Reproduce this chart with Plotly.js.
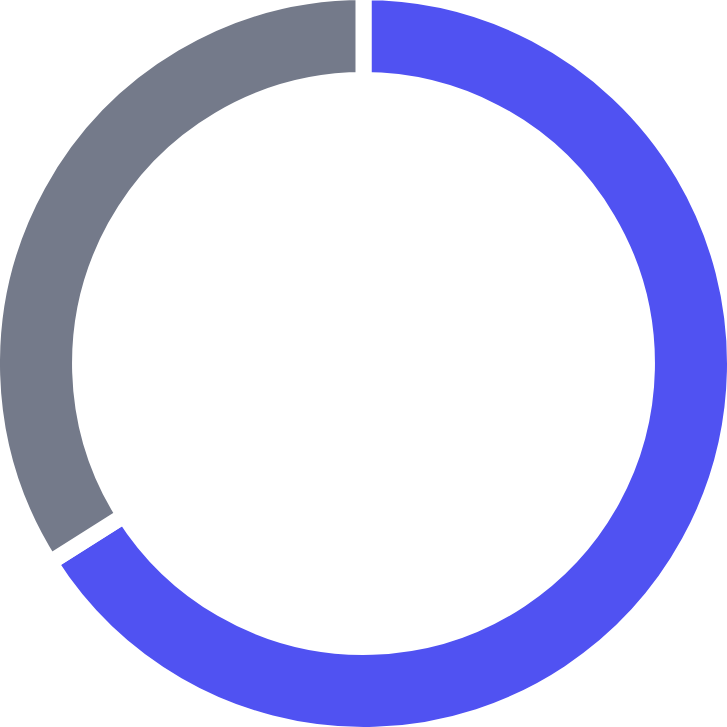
<!DOCTYPE html>
<html>
<head>
<meta charset="utf-8">
<script src="https://cdn.plot.ly/plotly-3.0.1.min.js"></script>
<style>
  html, body { margin: 0; padding: 0; background: #fff; overflow: hidden; }
  #chart { position: absolute; left: -8px; top: -8px; width: 743px; height: 743px; }
</style>
</head>
<body>
<div id="chart"></div>
<script>
// two slices (about 66 / 34)
let labels = ['Blue', 'Gray']
let values = [66, 34]
let colors = ['#5052F2', '#747A8A']

var ring = {
    type: 'pie',
    labels: labels,
    values: values,
    hole: 0.763,
    sort: false,
    direction: 'clockwise',
    rotation: 0,
    textinfo: 'none',
    hoverinfo: 'none',
    marker: {
        colors: colors,
        line: { color: '#ffffff', width: 16 }
    }
};

var layout = {
    width: 743,
    height: 743,
    margin: { l: 0, r: 0, t: 0, b: 0 },
    showlegend: false,
    paper_bgcolor: '#ffffff'
};

Plotly.newPlot('chart', [ring], layout, { displayModeBar: false, staticPlot: true });
</script>
</body>
</html>
